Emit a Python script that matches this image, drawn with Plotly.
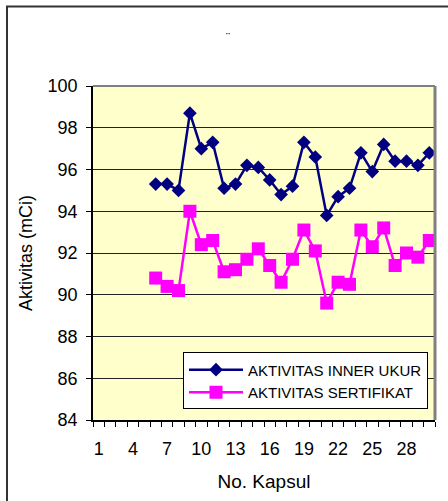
import plotly.graph_objects as go

# Capsule numbers and measured activities (mCi)
kapsul = list(range(6, 31))
aktivitas_inner_ukur = [95.3, 95.3, 95.0, 98.7, 97.0, 97.3, 95.1, 95.3, 96.2, 96.1,
                        95.5, 94.8, 95.2, 97.3, 96.6, 93.8, 94.7, 95.1, 96.8, 95.9,
                        97.2, 96.4, 96.4, 96.2, 96.8]
aktivitas_sertifikat = [90.8, 90.4, 90.2, 94.0, 92.4, 92.6, 91.1, 91.2, 91.7, 92.2,
                        91.4, 90.6, 91.7, 93.1, 92.1, 89.6, 90.6, 90.5, 93.1, 92.3,
                        93.2, 91.4, 92.0, 91.8, 92.6]
x_tickvals = [1, 4, 7, 10, 13, 16, 19, 22, 25, 28]
y_tickvals = [84, 86, 88, 90, 92, 94, 96, 98, 100]

FONT = "Liberation Sans, Arial, sans-serif"

fig = go.Figure()
fig.add_trace(go.Scatter(
    x=kapsul, y=aktivitas_inner_ukur, mode="lines+markers",
    name="AKTIVITAS INNER UKUR",
    line=dict(color="#000080", width=2.5),
    marker=dict(symbol="diamond", size=10.5, color="#000080"),
))
fig.add_trace(go.Scatter(
    x=kapsul, y=aktivitas_sertifikat, mode="lines+markers",
    name="AKTIVITAS SERTIFIKAT",
    line=dict(color="#FF00FF", width=2.5),
    marker=dict(symbol="square", size=13, color="#FF00FF"),
))

# plot-area border on top/right (gray) and outer chart frame
shapes = [
    dict(type="line", xref="paper", yref="paper", x0=0, x1=1, y0=1, y1=1,
         line=dict(color="#808080", width=2), layer="above"),
    dict(type="line", xref="paper", yref="paper", x0=1, x1=1, y0=0, y1=1,
         line=dict(color="#808080", width=3), layer="above"),
    dict(type="rect", xref="paper", yref="paper",
         x0=(7 - 93) / 342, x1=1.1, y0=-0.3, y1=(422 - 6) / 336,
         line=dict(color="#333333", width=2), layer="above"),
]

fig.update_layout(
    width=448, height=501,
    margin=dict(l=93, r=13, t=86, b=79),
    paper_bgcolor="white",
    plot_bgcolor="#FFFFCC",
    font=dict(family=FONT, color="black"),
    shapes=shapes,
    showlegend=True,
    legend=dict(
        x=(183 - 93) / 342, y=(422 - 354) / 336, xanchor="left", yanchor="top",
        bgcolor="white", bordercolor="black", borderwidth=1,
        font=dict(family=FONT, size=15, color="black"),
        itemwidth=54, tracegroupgap=4,
    ),
    annotations=[dict(text="¨", x=(228 - 93) / 342, y=(422 - 29) / 336,
                      xref="paper", yref="paper", showarrow=False,
                      font=dict(size=12, family=FONT))],
)

fig.update_xaxes(
    range=[0.5, 30.5], tickmode="array", tickvals=x_tickvals,
    ticks="", showgrid=False, zeroline=False,
    showline=True, linecolor="black", linewidth=1.5,
    tickfont=dict(size=18, family=FONT), ticklabelstandoff=12,
    minor=dict(tick0=0.5, dtick=1, ticks="outside", ticklen=5,
               tickcolor="black", tickwidth=1, showgrid=False),
    title=dict(text="No. Kapsul", font=dict(size=19, family=FONT), standoff=16),
)
fig.update_yaxes(
    range=[84, 100], tickmode="array", tickvals=y_tickvals,
    ticks="outside", ticklen=5, tickcolor="black", tickwidth=1,
    showgrid=True, gridcolor="#222222", gridwidth=1, zeroline=False,
    showline=True, linecolor="black", linewidth=1.5,
    tickfont=dict(size=18, family=FONT), ticklabelstandoff=5,
    title=dict(text="Aktivitas (mCi)", font=dict(size=18, family=FONT), standoff=10),
)

fig.write_html("out.html")
